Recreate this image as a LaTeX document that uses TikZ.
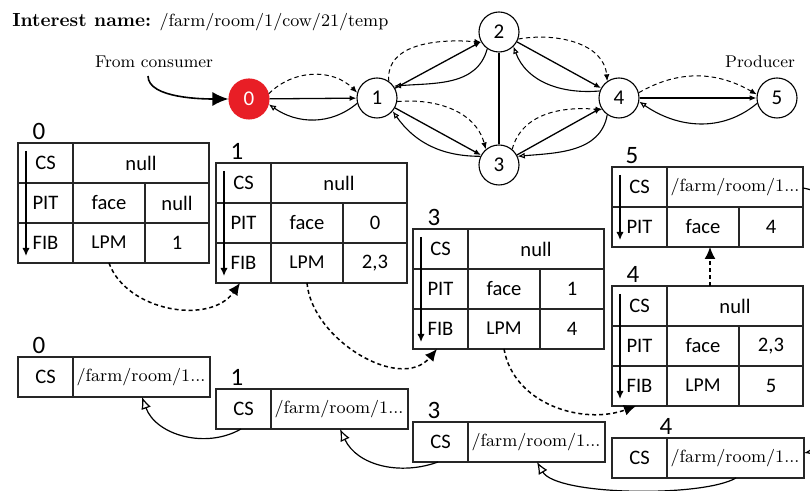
\documentclass[tikz,border=0pt]{standalone}
\usepackage{fontspec}
\usepackage{xcolor}
\usepackage{tikz}
\usetikzlibrary{arrows.meta, positioning}
\newfontfamily\tabfont{Carlito}
\definecolor{consumerred}{RGB}{232,30,38}

\begin{document}
\begin{tikzpicture}[x=0.5pt, y=0.5pt,
  router/.style={circle, draw, line width=0.55pt, fill=white, minimum size=20pt, inner sep=0pt, font=\tabfont\fontsize{10.5}{12}\selectfont},
  fwdline/.style={line width=0.65pt, -{Latex[length=3.4pt,width=2.8pt]}},
  plainline/.style={line width=0.65pt},
  intcurve/.style={line width=0.5pt, dash pattern=on 2.2pt off 1.6pt, -{Latex[length=3.4pt,width=2.8pt]}},
  datacurve/.style={line width=0.55pt, -{Latex[open,length=3.6pt,width=3pt]}},
  consumerarrow/.style={line width=0.8pt, -{Latex[length=8pt,width=7pt]}},
  tabline/.style={line width=0.65pt, draw=black!85},
  rowarrow/.style={line width=0.65pt, -{Latex[length=4pt,width=3.6pt]}},
  tabtext/.style={font=\tabfont\fontsize{10.3}{12}\selectfont, inner sep=1pt},
  tabnum/.style={font=\tabfont\fontsize{12.5}{14}\selectfont, anchor=base, inner sep=0pt},
  pathtext/.style={font=\fontsize{8.8}{10}\selectfont, inner sep=1pt},
  labeltext/.style={font=\fontsize{8.5}{10}\selectfont, inner sep=0pt},
  flowarrow/.style={line width=0.75pt, dash pattern=on 2pt off 1.5pt, -{Latex[length=6pt,width=5.5pt]}},
  tabreturn/.style={line width=0.6pt, -{Latex[open,length=6pt,width=5pt]}}
]
\useasboundingbox (0,0) rectangle (810,-491);
\clip (0,0) rectangle (810,-491);

% Table with CS, PIT and FIB: name, left, top, number, CS, PIT, FIB
\def\fulltable#1#2#3#4#5#6#7{%
\begin{scope}[shift={(#2,-#3)}]
  \draw[tabline] (0,0) rectangle (191,-120);
  \draw[tabline] (0,-40) -- (191,-40) (0,-80) -- (191,-80) (55,0) -- (55,-120) (127,-40) -- (127,-120);
  \draw[rowarrow] (8,-8) -- (8,-113);
  \node[tabnum] (#1num) at (21,3) {#4};
  \node[tabtext] (#1cs) at (27.5,-20) {CS};
  \node[tabtext] (#1csval) at (123,-20) {#5};
  \node[tabtext] (#1pit) at (27.5,-60) {PIT};
  \node[tabtext] (#1face) at (91,-60) {face};
  \node[tabtext] (#1pitval) at (159,-60) {#6};
  \node[tabtext] (#1fib) at (27.5,-100) {FIB};
  \node[tabtext, font=\tabfont\fontsize{9.8}{11}\selectfont] (#1lpm) at (91,-99) {LPM};
  \node[tabtext] (#1fibval) at (159,-100) {#7};
  \coordinate (#1out) at (91,-120);
  \coordinate (#1in) at (24,-120);
  \coordinate (#1top) at (98,0);
\end{scope}}

% Table with CS only: name, left, top, number, number offset
\def\cstable#1#2#3#4#5{%
\begin{scope}[shift={(#2,-#3)}]
  \draw[tabline] (0,0) rectangle (192,-40);
  \draw[tabline] (55,0) -- (55,-40);
  \node[tabnum] (#1num) at (#5,3) {#4};
  \node[tabtext] (#1cs) at (27.5,-20) {CS};
  \node[pathtext] (#1val) at (123,-20) {/farm/room/1...};
  \coordinate (#1out) at (25,-40);
  \coordinate (#1in) at (124,-40);
  \coordinate (#1right) at (192,-15);
\end{scope}}

% Interest name
\node[anchor=base west, inner sep=0pt] (Title) at (12,-27)
  {\fontsize{9.5}{11}\selectfont\textbf{Interest name:} \fontsize{8.8}{10}\selectfont/farm/room/1/cow/21/temp};

% Draw the routers
\node[router, fill=consumerred, draw=consumerred, text=white] (N0) at (249,-99) {0};
\node[router] (N1) at (377,-98) {1};
\node[router] (N2) at (499,-32) {2};
\node[router] (N3) at (499,-165) {3};
\node[router] (N4) at (619,-98) {4};
\node[router] (N5) at (777,-98) {5};

\node[labeltext, anchor=base] (Consumer) at (154,-68) {From consumer};
\node[labeltext, anchor=base] (Producer) at (760,-68) {Producer};
\coordinate (ConsumerStart) at (148,-76);
\draw[consumerarrow] (ConsumerStart) to[out=-90, in=180, looseness=0.7] (N0);

% Straight links
\foreach \a/\b in {N0/N1, N1/N2, N1/N3, N2/N4, N3/N4, N4/N5}
  \draw[fwdline] (\a) -- (\b);
\draw[plainline] (N2) -- (N3);

% Interest path (dashed)
\draw[intcurve] (N0.15) to[out=45, in=135] (N1.165);
\draw[intcurve] (N1.55) to[out=95, in=175] (N2.210);
\draw[intcurve] (N1.-10) to[out=5, in=105] (N3.130);
\draw[intcurve] (N2.-20) to[out=10, in=95] (N4.125);
\draw[intcurve] (N3.50) to[out=75, in=175] (N4.215);
\draw[intcurve] (N4.15) to[out=30, in=150] (N5.170);

% Data path back
\draw[datacurve] (N1.195) to[out=-140, in=-35] (N0.-15);
\draw[datacurve] (N2.235) to[out=-105, in=5] (N1.35);
\draw[datacurve] (N3.155) to[out=180, in=-55] (N1.-40);
\draw[datacurve] (N4.160) to[out=185, in=-70] (N2.-45);
\draw[datacurve] (N4.235) to[out=-100, in=5] (N3.25);
\draw[datacurve] (N5.195) to[out=-140, in=-35] (N4.-10);

% Tables on the interest path
\fulltable{T0}{18}{143}{0}{null}{null}{1}
\fulltable{T1}{216}{163}{1}{null}{0}{2,3}
\fulltable{T3}{413}{229}{3}{null}{1}{4}
\fulltable{T4}{612}{286}{4}{null}{2,3}{5}

% Table of the producer
\begin{scope}[shift={(612,-167)}]
  \draw[tabline] (0,0) rectangle (191,-80);
  \draw[tabline] (0,-40) -- (191,-40) (55,0) -- (55,-80) (127,-40) -- (127,-80);
  \draw[rowarrow] (8,-8) -- (8,-73);
  \node[tabnum] (T5num) at (20,3) {5};
  \node[tabtext] (T5cs) at (27.5,-20) {CS};
  \node[pathtext] (T5csval) at (123,-20) {/farm/room/1...};
  \node[tabtext] (T5pit) at (27.5,-60) {PIT};
  \node[tabtext] (T5face) at (91,-60) {face};
  \node[tabtext] (T5pitval) at (159,-60) {4};
  \coordinate (T5in) at (98,-80);
  \coordinate (T5right) at (191,-21);
\end{scope}

\draw[flowarrow] (T0out) to[out=-70, in=-125] (T1in);
\draw[flowarrow] (T1out) to[out=-85, in=-130] (T3in);
\draw[flowarrow] (T3out) to[out=-80, in=-160] (T4in);
\draw[flowarrow] (T4top) -- (T5in);

% Tables on the data path
\cstable{B0}{18}{357}{0}{21}
\cstable{B1}{216}{389}{1}{21}
\cstable{B3}{413}{422}{3}{21}
\cstable{B4}{612}{438}{4}{54}

\draw[tabreturn] (T5right) to[out=-10, in=10] (B4right);
\draw[tabreturn] (B4in) to[out=-150, in=-60, looseness=0.5] (B3in);
\draw[tabreturn] (B3out) to[out=-160, in=-65] (B1in);
\draw[tabreturn] (B1out) to[out=-150, in=-70] (B0in);

\end{tikzpicture}
\end{document}
